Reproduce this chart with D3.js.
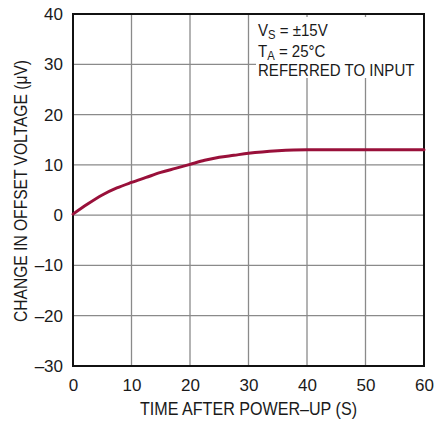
<!DOCTYPE html>
<html>
<head>
<meta charset="utf-8">
<script src="https://cdn.jsdelivr.net/npm/d3@7"></script>
<style>
  html, body { margin: 0; padding: 0; background: #fff; }
  svg { display: block; }
  text { font-family: "Liberation Sans", Arial, sans-serif; fill: #1a1a1a; }
</style>
</head>
<body>
<svg id="chart" width="434" height="423"></svg>
<script>
const timeS = [0, 2.5, 5, 7.5, 10, 12.5, 15, 17.5, 20, 22.5, 25, 27.5, 30, 35, 40, 45, 50, 55, 60];
const offsetUV = [0.2, 2.2, 4.0, 5.4, 6.5, 7.5, 8.5, 9.3, 10.1, 10.9, 11.5, 11.9, 12.3, 12.8, 13.0, 13.0, 13.0, 13.0, 13.0];
const xTicks = [0, 10, 20, 30, 40, 50, 60];
const yTicks = [-30, -20, -10, 0, 10, 20, 30, 40];
const annotation = ["V|S| = ±15V", "T|A| = 25°C", "REFERRED TO INPUT"];

const FONT = '"Liberation Sans", Arial, sans-serif';
const svg = d3.select("#chart");
const L = 73, R = 424, T = 14, B = 366;

const x = d3.scaleLinear().domain([0, 60]).range([L, R]);
const y = d3.scaleLinear().domain([-30, 40]).range([B, T]);

// grid
svg.append("g").selectAll("line").data(xTicks.slice(1, -1)).join("line")
  .attr("x1", d => x(d)).attr("x2", d => x(d)).attr("y1", T).attr("y2", B)
  .attr("stroke", "#8a8a8a").attr("stroke-width", 1.3);
svg.append("g").selectAll("line").data(yTicks.slice(1, -1)).join("line")
  .attr("x1", L).attr("x2", R).attr("y1", d => y(d)).attr("y2", d => y(d))
  .attr("stroke", "#8a8a8a").attr("stroke-width", 1.3);

// annotation box background
svg.append("rect").attr("x", 256).attr("y", 17).attr("width", R - 256 - 1).attr("height", 61).attr("fill", "#fff");

// frame
svg.append("rect").attr("x", L).attr("y", T).attr("width", R - L).attr("height", B - T)
  .attr("fill", "none").attr("stroke", "#111").attr("stroke-width", 2);

// axes tick labels
const xAxis = d3.axisBottom(x).tickValues(xTicks).tickSize(0).tickPadding(13);
const gx = svg.append("g").attr("transform", `translate(0,${B})`).call(xAxis);
gx.select(".domain").remove();
gx.selectAll("text").attr("font-size", 17).style("font-family", FONT).attr("fill", "#1a1a1a");

const yAxis = d3.axisLeft(y).tickValues(yTicks).tickSize(0).tickPadding(10).tickFormat(d => d < 0 ? "\u2013" + Math.abs(d) : d);
const gy = svg.append("g").attr("transform", `translate(${L},0)`).call(yAxis);
gy.select(".domain").remove();
gy.selectAll("text").attr("font-size", 17).style("font-family", FONT).attr("fill", "#1a1a1a");

// curve
const line = d3.line().x((d, i) => x(timeS[i])).y(d => y(d)).curve(d3.curveMonotoneX);
svg.append("path").datum(offsetUV).attr("d", line)
  .attr("fill", "none").attr("stroke", "#99103a").attr("stroke-width", 3).attr("stroke-linecap", "round");

// axis titles
svg.append("text").attr("x", (L + R) / 2).attr("y", 415).attr("text-anchor", "middle")
  .attr("font-size", 18).attr("textLength", 217).attr("lengthAdjust", "spacingAndGlyphs")
  .text("TIME AFTER POWER\u2013UP (S)");
svg.append("text").attr("transform", "translate(27,191) rotate(-90)").attr("text-anchor", "middle")
  .attr("font-size", 17.5).attr("textLength", 262).attr("lengthAdjust", "spacingAndGlyphs")
  .text("CHANGE IN OFFSET VOLTAGE (\u03bcV)");

// annotation
const baselines = [36, 57, 76];
const ann = svg.append("g").attr("transform", "translate(258,0) scale(0.94,1)");
annotation.forEach((s, i) => {
  const parts = s.split("|");
  const t = ann.append("text").attr("x", 0).attr("y", baselines[i]).attr("font-size", 16);
  if (parts.length === 3) {
    t.append("tspan").text(parts[0]);
    t.append("tspan").attr("dy", 3).attr("font-size", 12).text(parts[1]);
    t.append("tspan").attr("dy", -3).text(parts[2]);
  } else {
    t.text(s);
  }
});
</script>
</body>
</html>
